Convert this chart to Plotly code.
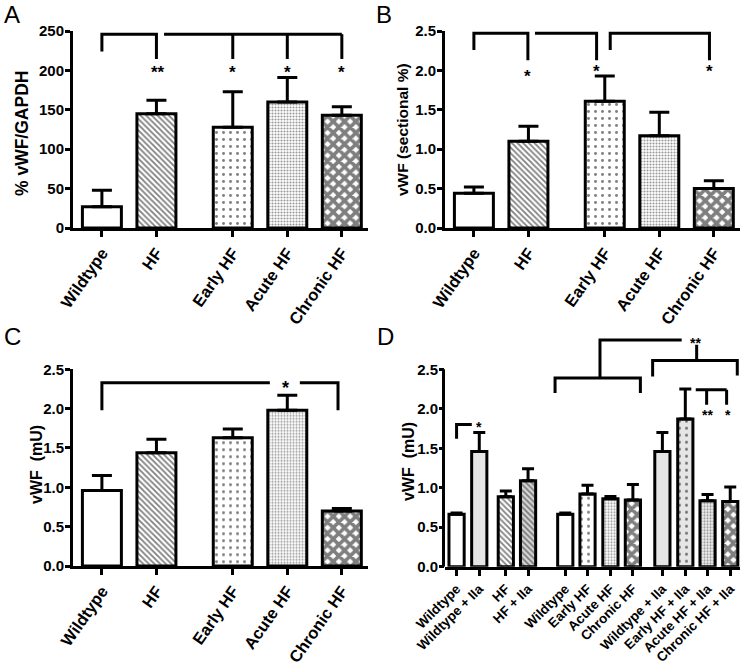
import plotly.graph_objects as go

W, H = 743, 667

# ---------------- data ----------------
abc_labels = ["Wildtype", "HF", "Early HF", "Acute HF", "Chronic HF"]
abc_pos = [0, 1, 2.4, 3.4, 4.4]

a_vals = [27, 145, 128, 160, 143]
a_errtop = [48, 162, 173, 191, 154]

b_vals = [0.44, 1.10, 1.61, 1.17, 0.50]
b_errtop = [0.52, 1.29, 1.93, 1.47, 0.60]

c_vals = [0.96, 1.44, 1.63, 1.98, 0.70]
c_errtop = [1.15, 1.61, 1.74, 2.17, 0.73]

d_labels = ["Wildtype", "Wildtype + IIa", "HF", "HF + IIa",
            "Wildtype", "Early HF", "Acute HF", "Chronic HF",
            "Wildtype + IIa", "Early HF + IIa", "Acute HF + IIa", "Chronic HF + IIa"]
d_pos = [0, 1, 2.17, 3.15, 4.79, 5.77, 6.78, 7.77, 9.07, 10.08, 11.06, 12.06]
d_vals = [0.665, 1.46, 0.885, 1.09, 0.665, 0.92, 0.86, 0.845, 1.46, 1.87, 0.835, 0.825]
d_errtop = [0.68, 1.70, 0.96, 1.24, 0.68, 1.03, 0.89, 1.04, 1.70, 2.25, 0.915, 1.01]

# ---------------- styles ----------------
STY = {
    "wt":       dict(shape="",   size=8, sol=0.3,  bg="#ffffff", fg="#000000"),
    "hf":       dict(shape="\\", size=4, sol=0.45, bg="#ffffff", fg="#000000"),
    "early":    dict(shape=".",  size=7, sol=0.14, bg="#ffffff", fg="#000000"),
    "acute":    dict(shape=".",  size=3, sol=0.4,  bg="#ffffff", fg="#333333"),
    "chronic":  dict(shape="x",  size=8, sol=0.7,  bg="#ffffff", fg="#000000"),
    "wt2":      dict(shape="",   size=8, sol=0.3,  bg="#e6e6e6", fg="#000000"),
    "hf2":      dict(shape="\\", size=4, sol=0.45, bg="#d4d4d4", fg="#222222"),
    "early2":   dict(shape=".",  size=7, sol=0.14, bg="#e6e6e6", fg="#000000"),
    "acute2":   dict(shape=".",  size=3, sol=0.4,  bg="#eeeeee", fg="#333333"),
    "chronic2": dict(shape="x",  size=8, sol=0.7,  bg="#ffffff", fg="#000000"),
}
abc_sty = ["wt", "hf", "early", "acute", "chronic"]
d_sty = ["wt", "wt2", "hf", "hf2", "wt", "early", "acute", "chronic",
         "wt2", "early2", "acute2", "chronic2"]

FONT = "Liberation Sans, Arial, sans-serif"


def px_x(p):
    return p / W


def px_y(p):
    return 1 - p / H


fig = go.Figure()


def add_bars(pos, vals, errtop, styles, xa, ya, width, capw):
    for x, v, e, k in zip(pos, vals, errtop, styles):
        t = STY[k]
        marker = dict(color=t["bg"], line=dict(color="#000000", width=3))
        if t["shape"]:
            marker["pattern"] = dict(shape=t["shape"], size=t["size"], solidity=t["sol"],
                                     fgcolor=t["fg"], bgcolor=t["bg"], fillmode="overlay")
        fig.add_trace(go.Bar(
            x=[x], y=[v], width=width, xaxis=xa, yaxis=ya, marker=marker,
            error_y=dict(type="data", symmetric=False, array=[e - v], arrayminus=[0],
                         color="#000000", thickness=3, width=capw),
            showlegend=False, hoverinfo="skip"))


add_bars(abc_pos, a_vals, a_errtop, abc_sty, "x", "y", 0.715, 10)
add_bars(abc_pos, b_vals, b_errtop, abc_sty, "x2", "y2", 0.715, 10)
add_bars(abc_pos, c_vals, c_errtop, abc_sty, "x3", "y3", 0.715, 10)
add_bars(d_pos, d_vals, d_errtop, d_sty, "x4", "y4", 0.67, 6)

tickfont = dict(family=FONT, size=16.5, color="black", weight="bold")
tickfont_d = dict(family=FONT, size=13.5, color="black", weight="bold")


def xaxis(dom, rng, pos, labels, anchor, tf, angle):
    return dict(domain=dom, range=rng, anchor=anchor, showline=True, linewidth=3,
                linecolor="black", ticks="outside", ticklen=6, tickwidth=3,
                tickcolor="black", tickvals=pos, ticktext=labels, tickangle=angle,
                tickfont=tf, showgrid=False, zeroline=False, automargin=False)


def yaxis(dom, rng, tv, fmt, anchor, showline=True):
    return dict(domain=dom, range=rng, anchor=anchor, showline=showline, linewidth=3,
                linecolor="black", ticks="outside", ticklen=5, tickwidth=3,
                tickcolor="black", tickvals=tv, tickformat=fmt, ticklabelstandoff=-2,
                tickfont=dict(family=FONT, size=15, color="black", weight="bold"),
                showgrid=False, zeroline=False, automargin=False)


xA = [px_x(73), px_x(368)]
xB = [px_x(445), px_x(740)]
yAB = [px_y(228), px_y(31)]
yC = [px_y(566), px_y(369.3)]
D_TOP = 2.95
d_scale = (566.7 - 369.3) / 2.5
yD = [px_y(566.7), px_y(566.7 - D_TOP * d_scale)]
R5 = [-0.53, 4.88]

fig.update_layout(
    width=W, height=H, margin=dict(l=0, r=0, t=0, b=0),
    template="none", paper_bgcolor="white", plot_bgcolor="white",
    barmode="overlay", showlegend=False,
    xaxis=xaxis(xA, R5, abc_pos, abc_labels, "y", tickfont, -55),
    yaxis=yaxis(yAB, [0, 250], [0, 50, 100, 150, 200, 250], "d", "x"),
    xaxis2=xaxis(xB, R5, abc_pos, abc_labels, "y2", tickfont, -55),
    yaxis2=yaxis(yAB, [0, 2.5], [0, 0.5, 1, 1.5, 2, 2.5], ".1f", "x2"),
    xaxis3=xaxis(xA, R5, abc_pos, abc_labels, "y3", tickfont, -55),
    yaxis3=yaxis(yC, [0, 2.5], [0, 0.5, 1, 1.5, 2, 2.5], ".1f", "x3"),
    xaxis4=xaxis(xB, [-0.51, 12.49], d_pos, d_labels, "y4", tickfont_d, -45),
    yaxis4=yaxis(yD, [0, D_TOP], [0, 0.5, 1, 1.5, 2, 2.5], ".1f", "x4", showline=False),
)

shapes = []
LINE = dict(color="black", width=3)


def path(xr, yr, pts):
    d = "M " + " L ".join(f"{x},{y}" for x, y in pts)
    shapes.append(dict(type="path", path=d, xref=xr, yref=yr, line=LINE, layer="above"))


# D y-axis line (only up to 2.5)
shapes.append(dict(type="line", xref="paper", yref="y4", x0=px_x(443.5), x1=px_x(443.5),
                   y0=0, y1=2.5, line=LINE))

# Panel A brackets
p = abc_pos
path("x", "y", [(p[0], 224), (p[0], 246), (p[1], 246), (p[1], 214.5)])
path("x", "y", [(1.14, 246), (p[4], 246)])
for i in (2, 3, 4):
    path("x", "y", [(p[i], 246), (p[i], 214.5)])

# Panel B brackets
path("x2", "y2", [(p[0], 2.26), (p[0], 2.47), (0.99, 2.47), (0.99, 2.13)])
path("x2", "y2", [(1.12, 2.47), (2.25, 2.47), (2.25, 2.13)])
path("x2", "y2", [(2.5, 2.26), (2.5, 2.47), (4.32, 2.47), (4.32, 2.13)])

# Panel C bracket (gap for star)
path("x3", "y3", [(p[0], 1.98), (p[0], 2.33), (3.08, 2.33)])
path("x3", "y3", [(3.63, 2.33), (4.33, 2.33), (4.33, 1.98)])

# Panel D brackets
path("x4", "y4", [(d_pos[0], 1.62), (d_pos[0], 1.80), (0.67, 1.80)])
path("x4", "y4", [(4.34, 2.2), (4.34, 2.39), (8.1, 2.39), (8.1, 2.2)])
path("x4", "y4", [(6.32, 2.39), (6.32, 2.87), (9.92, 2.87)])
path("x4", "y4", [(10.58, 2.81), (10.58, 2.61)])
path("x4", "y4", [(8.64, 2.41), (8.64, 2.61), (12.37, 2.61), (12.37, 2.42)])
path("x4", "y4", [(10.54, 2.24), (11.9, 2.24)])
path("x4", "y4", [(11.02, 2.24), (11.02, 2.05)])
path("x4", "y4", [(11.9, 2.24), (11.9, 2.05)])

fig.update_layout(shapes=shapes)

ann = []


def star(xr, yr, x, y, t, size=17):
    ann.append(dict(xref=xr, yref=yr, x=x, y=y, text=t, showarrow=False,
                    xanchor="center", yanchor="middle", yshift=-size * 0.28,
                    font=dict(family=FONT, size=size, color="black", weight="bold")))


star("x", "y", p[1] + 0.03, 203, "**")
for i in (2, 3, 4):
    star("x", "y", p[i], 203, "*")
star("x2", "y2", 0.99, 1.98, "*")
star("x2", "y2", 2.25, 2.05, "*")
star("x2", "y2", 4.32, 2.05, "*")
star("x3", "y3", 3.36, 2.33, "*", 18)
star("x4", "y4", 1.0, 1.82, "*", 14)
star("x4", "y4", 10.55, 2.88, "**", 14)
star("x4", "y4", 11.05, 1.97, "**", 14)
star("x4", "y4", 11.95, 1.97, "*", 14)

# panel letters
for letter, x, y in [("A", 2, 15), ("B", 374, 15), ("C", 2, 336), ("D", 375, 336)]:
    ann.append(dict(xref="paper", yref="paper", x=px_x(x), y=px_y(y), text=letter,
                    showarrow=False, xanchor="left", yanchor="middle",
                    font=dict(family=FONT, size=24, color="black")))

# y-axis titles
for t, x, y, s in [("% vWF/GAPDH", 22, 134, 17.5), ("vWF (sectional %)", 402, 130, 15.5),
                   ("vWF  (mU)", 36, 465, 16), ("vWF  (mU)", 408, 462, 16)]:
    ann.append(dict(xref="paper", yref="paper", x=px_x(x), y=px_y(y), text=t,
                    showarrow=False, textangle=-90, xanchor="center", yanchor="middle",
                    font=dict(family=FONT, size=s, color="black", weight="bold")))

fig.update_layout(annotations=ann)
fig.write_html("out.html", config={"displayModeBar": False},
               post_script="document.body.style.margin='0';")
